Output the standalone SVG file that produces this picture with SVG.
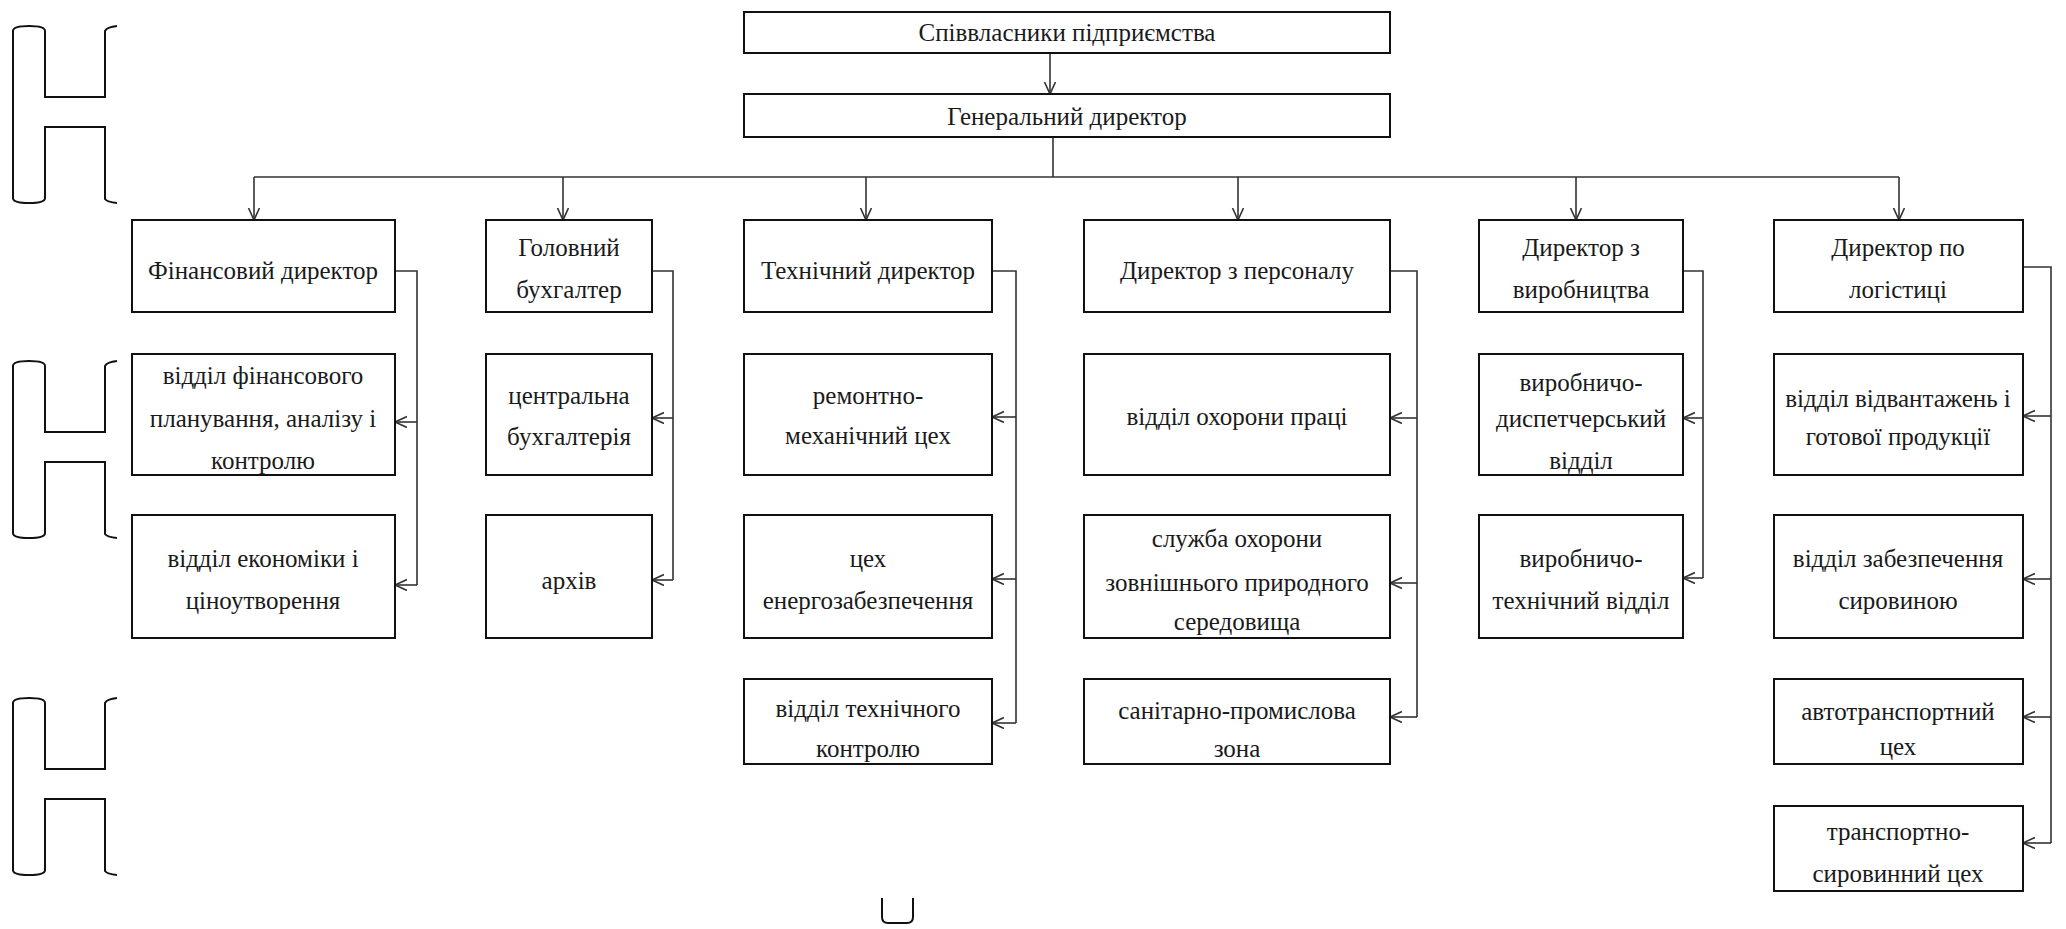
<svg xmlns="http://www.w3.org/2000/svg" width="2066" height="929" viewBox="0 0 2066 929" font-family="Liberation Serif, DejaVu Serif, serif">
<style>
.box{fill:#fff;stroke:#111;stroke-width:2}
.t{font-size:25px;fill:#1a1a1a;text-anchor:middle}
.ln{fill:none;stroke:#333;stroke-width:1.6}
.ar{fill:none;stroke:#333;stroke-width:1.6;marker-end:url(#arr)}
.br{fill:none;stroke:#111;stroke-width:2}
</style>
<defs>
<marker id="arr" markerUnits="userSpaceOnUse" markerWidth="14" markerHeight="14" refX="12" refY="6" orient="auto">
<path d="M0,0.5 L12,6 L0,11.5" fill="none" stroke="#333" stroke-width="1.6"/>
</marker>
<path id="brk" d="M117,26 Q107,27 105,31 L105,97 L45,97 L45,31 Q45,26 29,26 Q13,26 13,31 L13,198 Q13,203 29,203 Q45,203 45,198 L45,127 L105,127 L105,199 Q107,202 117,203"/>
</defs>
<rect width="2066" height="929" fill="#fff"/>

<g id="decor">
<use href="#brk" class="br"/>
<use href="#brk" class="br" transform="translate(0,335)"/>
<use href="#brk" class="br" transform="translate(0,672)"/>
<path class="br" d="M882,898 L882,917 Q882,923 888,923 L907,923 Q913,923 913,917 L913,898"/>
</g>

<g id="connectors">
<line class="ar" x1="1050" y1="53" x2="1050" y2="94"/>
<line class="ln" x1="1053" y1="137" x2="1053" y2="177"/>
<line class="ln" x1="254" y1="177" x2="1899" y2="177"/>
<line class="ar" x1="254" y1="177" x2="254" y2="220"/>
<line class="ar" x1="563" y1="177" x2="563" y2="220"/>
<line class="ar" x1="866" y1="177" x2="866" y2="220"/>
<line class="ar" x1="1238" y1="177" x2="1238" y2="220"/>
<line class="ar" x1="1576" y1="177" x2="1576" y2="220"/>
<line class="ar" x1="1899" y1="177" x2="1899" y2="220"/>

<path class="ln" d="M395,271 H417 V585"/>
<line class="ar" x1="417" y1="422" x2="395" y2="422"/>
<line class="ar" x1="417" y1="585" x2="395" y2="585"/>

<path class="ln" d="M652,271 H673 V580"/>
<line class="ar" x1="673" y1="418" x2="652" y2="418"/>
<line class="ar" x1="673" y1="580" x2="652" y2="580"/>

<path class="ln" d="M992,271 H1016 V723"/>
<line class="ar" x1="1016" y1="417" x2="992" y2="417"/>
<line class="ar" x1="1016" y1="579" x2="992" y2="579"/>
<line class="ar" x1="1016" y1="723" x2="992" y2="723"/>

<path class="ln" d="M1390,271 H1417 V717"/>
<line class="ar" x1="1417" y1="418" x2="1390" y2="418"/>
<line class="ar" x1="1417" y1="583" x2="1390" y2="583"/>
<line class="ar" x1="1417" y1="717" x2="1390" y2="717"/>

<path class="ln" d="M1683,271 H1703 V578"/>
<line class="ar" x1="1703" y1="418" x2="1683" y2="418"/>
<line class="ar" x1="1703" y1="578" x2="1683" y2="578"/>

<path class="ln" d="M2023,267 H2051 V843"/>
<line class="ar" x1="2051" y1="416" x2="2023" y2="416"/>
<line class="ar" x1="2051" y1="579" x2="2023" y2="579"/>
<line class="ar" x1="2051" y1="717" x2="2023" y2="717"/>
<line class="ar" x1="2051" y1="843" x2="2023" y2="843"/>
</g>

<g id="owners"><rect class="box" x="744" y="12" width="646" height="41"/><text class="t" x="1067" y="41">Співвласники підприємства</text></g>
<g id="gendir"><rect class="box" x="744" y="94" width="646" height="43"/><text class="t" x="1067" y="125">Генеральний директор</text></g>

<g id="findir"><rect class="box" x="132" y="220" width="263" height="92"/><text class="t" x="263" y="279">Фінансовий директор</text></g>
<g id="chiefacc"><rect class="box" x="486" y="220" width="166" height="92"/><text class="t" x="569" y="256">Головний</text><text class="t" x="569" y="298">бухгалтер</text></g>
<g id="techdir"><rect class="box" x="744" y="220" width="248" height="92"/><text class="t" x="868" y="279">Технічний директор</text></g>
<g id="hrdir"><rect class="box" x="1084" y="220" width="306" height="92"/><text class="t" x="1237" y="279">Директор з персоналу</text></g>
<g id="proddir"><rect class="box" x="1479" y="220" width="204" height="92"/><text class="t" x="1581" y="256">Директор з</text><text class="t" x="1581" y="298">виробництва</text></g>
<g id="logdir"><rect class="box" x="1774" y="220" width="249" height="92"/><text class="t" x="1898" y="256">Директор по</text><text class="t" x="1898" y="298">логістиці</text></g>

<g id="finplan"><rect class="box" x="132" y="354" width="263" height="121"/><text class="t" x="263" y="384">відділ фінансового</text><text class="t" x="263" y="427">планування, аналізу і</text><text class="t" x="263" y="469">контролю</text></g>
<g id="econ"><rect class="box" x="132" y="515" width="263" height="123"/><text class="t" x="263" y="567">відділ економіки і</text><text class="t" x="263" y="609">ціноутворення</text></g>

<g id="centacc"><rect class="box" x="486" y="354" width="166" height="121"/><text class="t" x="569" y="404">центральна</text><text class="t" x="569" y="445">бухгалтерія</text></g>
<g id="archive"><rect class="box" x="486" y="515" width="166" height="123"/><text class="t" x="569" y="589">архів</text></g>

<g id="repair"><rect class="box" x="744" y="354" width="248" height="121"/><text class="t" x="868" y="404">ремонтно-</text><text class="t" x="868" y="444">механічний цех</text></g>
<g id="energy"><rect class="box" x="744" y="515" width="248" height="123"/><text class="t" x="868" y="567">цех</text><text class="t" x="868" y="609">енергозабезпечення</text></g>
<g id="techctrl"><rect class="box" x="744" y="679" width="248" height="85"/><text class="t" x="868" y="717">відділ технічного</text><text class="t" x="868" y="757">контролю</text></g>

<g id="labor"><rect class="box" x="1084" y="354" width="306" height="121"/><text class="t" x="1237" y="425">відділ охорони праці</text></g>
<g id="env"><rect class="box" x="1084" y="515" width="306" height="123"/><text class="t" x="1237" y="547">служба охорони</text><text class="t" x="1237" y="591">зовнішнього природного</text><text class="t" x="1237" y="630">середовища</text></g>
<g id="sanit"><rect class="box" x="1084" y="679" width="306" height="85"/><text class="t" x="1237" y="719">санітарно-промислова</text><text class="t" x="1237" y="757">зона</text></g>

<g id="dispatch"><rect class="box" x="1479" y="354" width="204" height="121"/><text class="t" x="1581" y="391">виробничо-</text><text class="t" x="1581" y="427">диспетчерський</text><text class="t" x="1581" y="469">відділ</text></g>
<g id="prodtech"><rect class="box" x="1479" y="515" width="204" height="123"/><text class="t" x="1581" y="567">виробничо-</text><text class="t" x="1581" y="609">технічний відділ</text></g>

<g id="shipping"><rect class="box" x="1774" y="354" width="249" height="121"/><text class="t" x="1898" y="407">відділ відвантажень і</text><text class="t" x="1898" y="445">готової продукції</text></g>
<g id="rawsupply"><rect class="box" x="1774" y="515" width="249" height="123"/><text class="t" x="1898" y="567">відділ забезпечення</text><text class="t" x="1898" y="609">сировиною</text></g>
<g id="autotrans"><rect class="box" x="1774" y="679" width="249" height="85"/><text class="t" x="1898" y="720">автотранспортний</text><text class="t" x="1898" y="755">цех</text></g>
<g id="transraw"><rect class="box" x="1774" y="806" width="249" height="85"/><text class="t" x="1898" y="840">транспортно-</text><text class="t" x="1898" y="882">сировинний цех</text></g>
</svg>
